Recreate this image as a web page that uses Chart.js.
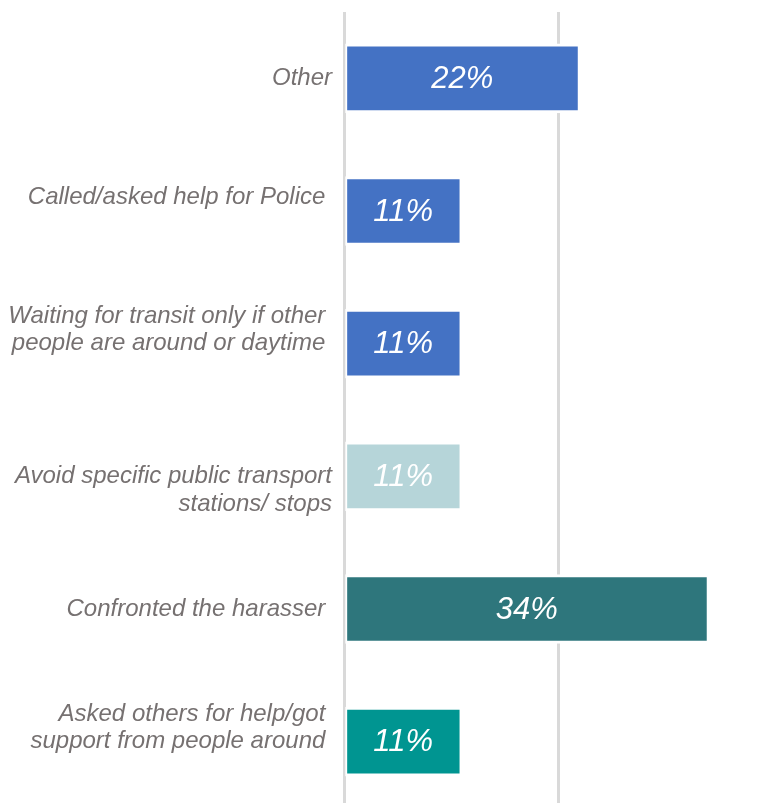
<!DOCTYPE html>
<html>
<head>
<meta charset="utf-8">
<script src="https://cdn.jsdelivr.net/npm/chart.js@4"></script>
<style>
  html, body { margin: 0; padding: 0; background: #ffffff; overflow: hidden; }
  #wrap { position: relative; width: 761px; height: 808px; }
</style>
</head>
<body>
<div id="wrap"><canvas id="chart"></canvas></div>
<script>
// Responses: actions taken after harassment on public transport.
// Blank entries in a label keep the text block sitting a little above or below its bar.
const categories = [
  'Other',
  ['Called/asked help for Police ', ''],
  ['Waiting for transit only if other ', 'people are around or daytime ', ''],
  ['', 'Avoid specific public transport', 'stations/ stops'],
  'Confronted the harasser ',
  ['Asked others for help/got ', 'support from people around ', '']
];
const shares = [22, 11, 11, 11, 34, 11];
const barColors = ['#4472C4', '#4472C4', '#4472C4', '#B6D5D9', '#2E767C', '#009591'];
const gridTicks = [0, 20];

const FONT = '"Liberation Sans", Arial, sans-serif';

// Writes the percentage inside each bar
const valueLabels = {
  id: 'valueLabels',
  afterDatasetsDraw(chart) {
    const ctx = chart.ctx;
    const meta = chart.getDatasetMeta(0);
    ctx.save();
    ctx.fillStyle = '#ffffff';
    ctx.font = 'italic 31px ' + FONT;
    ctx.textAlign = 'center';
    ctx.textBaseline = 'middle';
    meta.data.forEach((bar, i) => {
      const left = chart.scales.x.getPixelForValue(0);
      ctx.fillText(shares[i] + '%', (left + bar.x) / 2, bar.y + 1);
    });
    ctx.restore();
  }
};

new Chart(document.getElementById('chart'), {
  type: 'bar',
  data: {
    labels: categories,
    datasets: [{
      data: shares,
      backgroundColor: barColors,
      borderColor: '#ffffff',
      borderWidth: { top: 3, bottom: 3, right: 3, left: 2 },
      borderSkipped: false,
      barThickness: 69
    }]
  },
  options: {
    indexAxis: 'y',
    responsive: true,
    maintainAspectRatio: false,
    animation: false,
    layout: { padding: { top: 12, right: 0, bottom: 0, left: 0 } },
    plugins: {
      legend: { display: false },
      tooltip: { enabled: false }
    },
    scales: {
      x: {
        min: 0,
        max: 38.8,
        afterBuildTicks(scale) {
          scale.ticks = gridTicks.map(v => ({ value: v }));
        },
        afterFit(scale) { scale.height = 0; },
        ticks: { display: false },
        border: { display: false },
        grid: { color: '#D9D9D9', lineWidth: 3, drawTicks: false }
      },
      y: {
        afterFit(scale) {
          scale.width = 344;
          scale.paddingTop = 0;
          scale.paddingBottom = 0;
        },
        ticks: {
          color: '#767171',
          padding: 12,
          font: { family: FONT, size: 24, style: 'italic', lineHeight: 1.15 }
        },
        border: { display: false },
        grid: { display: false, drawTicks: false }
      }
    }
  },
  plugins: [valueLabels]
});
</script>
</body>
</html>
